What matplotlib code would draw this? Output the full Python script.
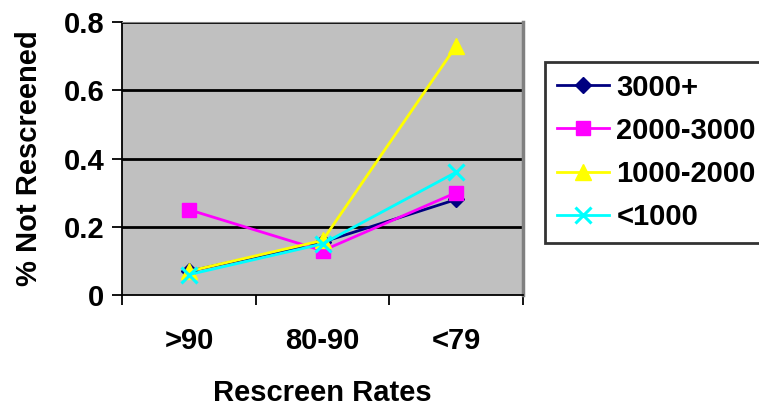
import matplotlib
matplotlib.use("Agg")
import matplotlib.pyplot as plt

plt.rcParams['font.family'] = ['Liberation Sans', 'DejaVu Sans']
plt.rcParams['font.weight'] = 'bold'

categories = [">90", "80-90", "<79"]
series_names = ["3000+", "2000-3000", "1000-2000", "<1000"]
v_3000plus = [0.07, 0.155, 0.28]
v_2000_3000 = [0.25, 0.13, 0.30]
v_1000_2000 = [0.07, 0.16, 0.73]
v_lt1000 = [0.06, 0.15, 0.36]
y_ticks = [0, 0.2, 0.4, 0.6, 0.8]
y_tick_labels = ["0", "0.2", "0.4", "0.6", "0.8"]

colors = ["#000080", "#FF00FF", "#FFFF00", "#00FFFF"]
markers = ["D", "s", "^", "x"]
msizes = [8, 10, 11, 11]
FS = 21

fig = plt.figure(figsize=(7.59, 4.07), dpi=100)
ax = fig.add_axes([0.161, 0.275, 0.528, 0.671])
ax.set_facecolor("#C0C0C0")

x = list(range(len(categories)))
all_vals = [v_3000plus, v_2000_3000, v_1000_2000, v_lt1000]
for vals, name, c, m, ms in zip(all_vals, series_names, colors, markers, msizes):
    ax.plot(x, vals, color=c, marker=m, markersize=ms, linewidth=2,
            markeredgewidth=2.2 if m == "x" else 1, markeredgecolor=c, label=name)

ax.set_xlim(-0.5, 2.5)
ax.set_ylim(0, 0.8)
ax.set_yticks(y_ticks)
ax.set_yticklabels(y_tick_labels, fontsize=FS, fontweight='bold')
ax.set_xticks([-0.5, 0.5, 1.5, 2.5])
ax.set_xticklabels([])
ax.set_xticks(x, minor=True)
ax.set_xticklabels(categories, minor=True, fontsize=FS, fontweight='bold')
ax.tick_params(axis='x', which='major', length=7, width=1.3, direction='out')
ax.tick_params(axis='x', which='minor', length=0, pad=23)
ax.tick_params(axis='y', length=7, width=1.3, direction='out', pad=6)

for yv in y_ticks[1:]:
    ax.axhline(yv, color="black", linewidth=2, zorder=1)

ax.spines['left'].set_color("black")
ax.spines['bottom'].set_color("black")
ax.spines['left'].set_linewidth(1.3)
ax.spines['bottom'].set_linewidth(1.3)
ax.spines['top'].set_color("#808080")
ax.spines['right'].set_color("#808080")
ax.spines['right'].set_linewidth(2.5)

ax.set_ylabel("% Not Rescreened", fontsize=FS, fontweight='bold', labelpad=15)
ax.set_xlabel("Rescreen Rates", fontsize=FS, fontweight='bold', labelpad=17)

leg = fig.legend(loc='upper left', bbox_to_anchor=(0.718, 0.848), fontsize=FS,
                 frameon=True, fancybox=False, edgecolor="black",
                 handlelength=1.8, labelspacing=0.52, borderpad=0.4,
                 handletextpad=0.25, borderaxespad=0)
leg.get_frame().set_linewidth(2)
for t in leg.get_texts():
    t.set_fontweight('bold')

fig.savefig("out.png", dpi=100)
